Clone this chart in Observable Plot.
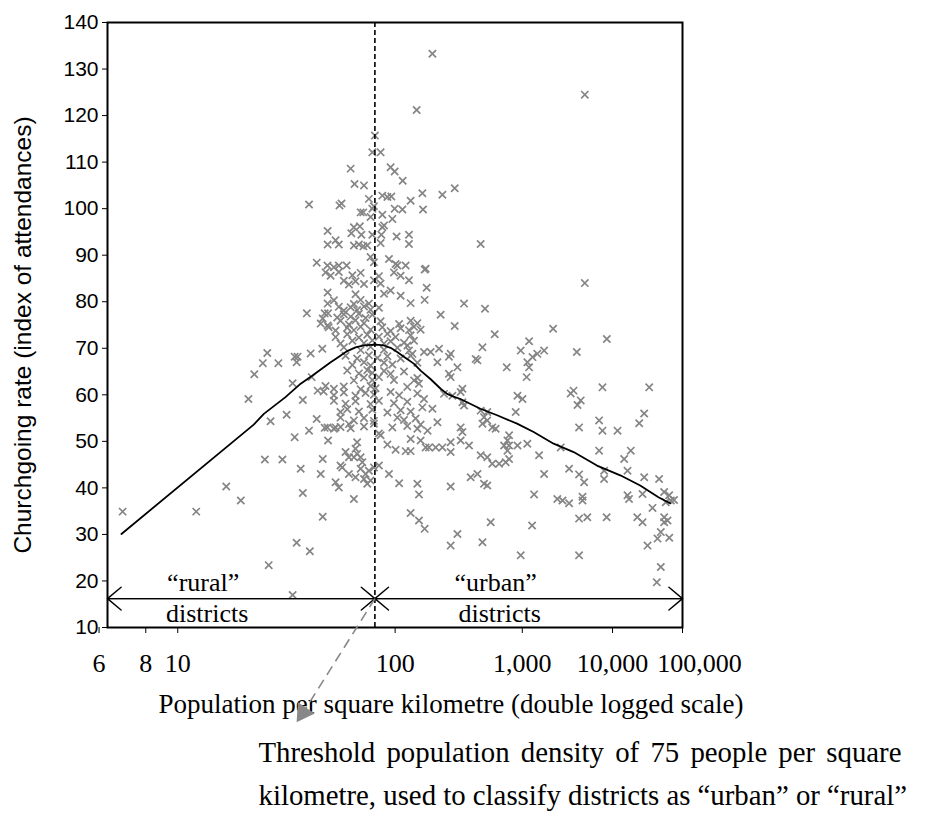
<!DOCTYPE html>
<html>
<head>
<meta charset="utf-8">
<script src="https://cdn.jsdelivr.net/npm/d3@7"></script>
<script src="https://cdn.jsdelivr.net/npm/@observablehq/plot@0.6"></script>
<style>
  html, body { margin: 0; padding: 0; background: #fff; }
  #chart { width: 930px; height: 820px; }
</style>
</head>
<body>
<div id="chart"></div>
<script>
// ---------- data ----------
// [population per km², churchgoing rate]
const districtPoints = [
  [6.9,34.9],[11.5,34.9],[14.7,40.3],[16.7,37.3],[17.9,59.1],[18.9,64.4],[20.5,66.8],[21.4,69.0],[23.9,66.8],
  [20.9,46.1],[24.9,46.1],[21.7,23.4],[22.1,54.3],[26.0,55.7],[27.7,62.5],[27.7,17.0],[28.3,68.2],[29.2,68.2],
  [28.9,67.0],[28.3,50.9],[28.9,28.2],[30.2,44.1],[30.9,58.9],[30.9,38.9],[32.3,77.5],[33.1,100.9],[33.1,52.3],
  [33.4,26.4],[33.7,68.9],[34.1,63.8],[36.1,88.4],[36.1,54.8],[36.5,60.9],
  [37.8,43.0],[38.5,69.9],[38.7,46.2],[38.7,33.8],[39.1,60.7],[39.6,52.9],[40.9,53.0],[41.0,95.2],[41.0,92.3],
  [41.0,82.0],[41.0,79.6],[39.6,77.5],[41.2,77.5],[38.7,76.4],[41.0,74.9],[41.2,50.2],[44.2,52.7],
  [138.7,121.2],[178.8,133.3],[75.0,115.7],[72.4,112.1],[81.2,112.1],[54.4,108.6],[93.6,108.9],[99.3,108.0],
  [111.9,106.0],[57.2,105.3],[64.7,105.0],[151.9,103.3],[69.1,102.1],[83.2,102.8],[89.4,102.5],[94.6,102.6],
  [126.3,101.7],[47.3,100.7],[48.5,101.1],[61.9,99.2],[64.1,99.2],[72.4,100.0],[74.0,100.5],[99.3,100.0],
  [111.4,99.8],[153.4,99.8],[83.2,98.7],[70.7,98.2],[96.0,97.8],[56.7,96.0],[61.3,96.2],[54.9,94.7],[62.5,94.4],
  [83.2,96.0],[85.2,96.4],[72.4,94.4],[82.0,94.4],[102.2,94.0],[123.1,94.4],[45.1,93.2],[46.9,92.3],[56.7,92.1],
  [60.5,92.3],[64.2,91.9],[67.6,92.1],[81.2,92.6],[123.1,92.4],[70.7,89.6],[74.0,88.5],[91.4,89.2],[100.7,88.1],
  [103.3,87.8],[117.0,87.8],[46.9,87.8],[51.7,87.8],[160.1,87.1],
  [4590,124.5],[211.5,103.0],[262.1,104.4],[423.9,92.4],[157.6,86.9],[162.8,83.0],[157.6,80.4],[310.0,79.6],
  [461,78.5],[205.3,77.2],[4590,84.0],[262.1,74.8],[2041,74.2],[98.3,86.3],[108.5,85.6],[123.1,84.6],[85.2,81.7],
  [93.6,82.4],[108.5,81.3],[126.3,79.7],
  [40.9,87.8],[44.2,87.4],
  [40.0,86.3],[42.5,85.6],[46.9,86.4],[55.6,85.7],[61.9,86.2],[79.3,85.5],
  [49.9,84.5],[53.2,83.7],[57.9,84.4],[64.7,83.8],[74.0,84.6],[81.2,83.9],
  [57.9,81.6],
  [44.2,80.3],[56.7,79.5],[61.9,80.4],[69.1,79.6],
  [46.9,78.9],[49.9,78.1],[54.4,78.8],[59.1,78.2],[64.7,79.0],[70.7,78.3],[79.3,78.7],
  [46.0,76.6],[49.9,77.3],[54.4,76.8],[60.5,77.4],[66.1,76.5],[72.4,77.2],
  [37.8,75.3],[47.9,75.9],[53.2,75.1],[57.9,76.0],[64.7,75.4],[81.2,75.8],[106.1,75.2],[126.3,75.9],[140.3,75.4],
  [41.5,74.5],[45.1,73.8],[52.1,74.4],[56.7,73.9],[61.9,74.6],[70.7,74.0],[83.2,74.5],[93.6,73.7],[108.5,74.3],
  [123.1,73.9],[133.0,74.6],[147.7,74.0],
  [45.1,72.4],[52.1,73.0],[60.5,72.3],[67.6,72.9],[79.3,72.5],[89.4,73.1],[100.7,72.4],[126.3,72.8],
  [47.9,71.0],[55.6,71.6],[64.7,71.1],[72.4,71.7],[85.2,71.0],[93.6,71.5],[114.1,71.2],[133.0,71.6],
  [49.9,70.2],[61.9,69.6],[70.7,70.3],[85.2,69.7],[103.3,70.1],[123.1,69.5],
  [51.0,68.4],[59.1,67.8],[69.1,68.5],[77.6,67.9],[89.4,68.3],[108.5,67.8],[126.3,68.4],
  [55.6,66.4],[64.7,67.0],[70.7,66.3],[85.2,66.9],[96.0,66.5],[140.3,66.9],
  [52.1,65.2],[60.5,64.6],[67.6,65.3],[72.4,64.7],[85.2,65.1],[93.6,64.5],[114.1,65.0],
  [56.7,63.1],[64.7,63.7],[72.4,63.2],[79.3,63.8],[98.3,63.2],[140.3,63.6],
  [40.0,61.9],[44.2,61.3],[49.9,61.8],[61.9,61.2],[70.7,61.9],[75.7,61.4],[119.9,61.7],
  [44.2,59.9],[49.9,60.5],[57.9,59.8],[66.1,60.4],[74.0,60.0],[93.6,60.6],[106.1,59.9],[140.3,60.3],
  [44.2,58.7],[51.0,58.1],[57.9,58.6],[70.7,58.0],[79.3,58.7],[98.3,58.2],[119.9,58.5],
  [47.9,56.3],[52.1,56.9],[60.5,56.4],[72.4,56.8],[89.4,56.2],[108.5,56.7],[126.3,56.4],
  [47.9,55.1],[56.7,54.5],[64.7,55.0],[74.0,54.4],[103.3,55.1],[114.1,54.6],[136.5,54.9],
  [47.9,53.1],[53.2,53.7],[64.7,53.2],[74.0,53.8],[119.9,53.3],[147.7,53.6],
  [45.1,53.0],[54.4,52.8],[96.0,53.0],[140.3,52.7],
  [59.1,49.8],[79.3,51.7],[81.2,51.3],[89.4,49.3],[100.7,48.2],[126.3,50.5],[147.7,50.2],[160.1,48.7],[117.0,47.9],
  [126.3,47.9],[57.9,48.4],[59.1,47.3],[61.9,46.6],[63.3,45.5],[56.7,46.6],[47.9,44.8],[48.9,44.4],[61.9,44.1],
  [69.1,43.7],[79.3,44.8],[91.4,43.0],[53.2,43.0],[57.9,42.3],[64.7,41.9],[45.1,41.2],[46.9,40.1],[67.6,40.9],
  [70.7,41.6],[106.1,41.0],[140.3,40.9],[143.9,38.6],[56.7,37.6],[126.3,34.6],[143.9,33.0],[157.6,31.2],[53.2,46.6],
  [51.0,47.7],[74.0,44.4],[66.1,43.0],
  [559,73.0],[8470,72.0],[1163,71.5],[438.6,70.2],[966,69.5],[1645,69.5],[1403,68.8],[1257,68.1],[3709,69.2],
  [199.7,69.9],[244,68.8],[236.8,68.2],[155.9,69.2],[173.7,69.2],[120.2,70.6],[129.8,68.8],[385.2,67.7],[398.4,67.4],
  [194.4,67.0],[275.1,65.9],[716,65.9],[1120,67.0],[1163,65.9],[1101,63.8],[236.8,64.5],[244,63.8],[133.2,63.1],
  [143.9,62.4],[3406,60.9],[3169,60.3],[7480,61.6],[31370,61.6],[217.4,60.2],[251.7,59.8],[301,61.3],[291.6,60.6],
  [900,59.8],[1004,59.1],[4115,58.8],[3780,57.8],[155.9,59.1],[178.8,57.0],[151.9,57.3],[301,58.4],[310,57.7],
  [423.9,56.6],[482,56.3],[866.5,56.3],[26600,56.0],[22660,53.9],[452,55.2],[482,54.5],[438.6,53.8],[532,53.0],
  [570,52.7],[291.6,53.0],[301,52.0],[194.4,54.1],[6800,54.5],[7480,52.3],[11600,52.3],[3938,53.0],[165.1,52.3],
  [752,51.3],[727,50.2],[677,49.1],[752,49.1],[900,49.1],[1118,49.5],[291.6,50.2],[340,49.1],[244,49.8],[169.1,48.7],
  [188.8,48.7],[211.5,48.7],[244,47.7],[423.9,47.0],[482,46.6],[532,45.2],[611,45.2],[700.6,45.5],[752,46.2],
  [727,48.0],[1461,47.0],[2461,48.7],[6800,48.0],[14170,46.2],[17361,48.0],[3039,44.1],[3938,42.9],[4504,41.2],
  [7835,43.7],[7835,41.9],[15700,43.7],[26600,42.3],[43700,41.9],[1645,43.0],[350.5,42.3],[398.4,43.0],[244,40.3],
  [452,40.9],[482,40.5],[1303,38.6],[2260,37.6],[2573,37.3],[3039,36.7],[4316,38.1],[4316,37.3],[15700,38.4],
  [16440,37.6],[25200,38.7],[52000,39.1],[61900,38.4],[55050,36.9],[65590,37.3],[35000,35.7],[515.8,32.6],
  [1245,31.9],[3938,33.4],[4907,33.7],[8430,33.7],[21320,33.7],[25200,32.6],[52000,33.7],[58400,33.0],[52000,32.6],
  [275.1,30.1],[244,27.6],[438.6,28.3],[46310,30.5],[41400,29.1],[62100,29.3],[29700,27.6],[966,25.5],[3938,25.5],
  [46310,23.0],[40400,19.7],[73500,37.4]
];

// smoothed trend line [population per km², churchgoing rate]
const trendPoints = [
  [6.85,30.1],[18.8,53.6],[20.7,55.9],[25.7,59.5],[30.2,62.4],[34.3,64.1],[42.5,67.0],[45.1,67.7],[52.1,69.4],
  [57.9,70.2],[64.6,70.6],[75.7,70.8],[84.9,70.6],[93.6,70.1],[103.1,69.2],[117.0,67.9],[132.6,66.7],[147.7,65.2],
  [173.1,63.4],[205.3,61.3],[229.4,60.2],[257,59.6],[290.3,59.1],[421.5,57.0],[586.6,55.6],[891.9,53.8],[1290,52.0],
  [2066,49.5],[3417,47.7],[6405,44.8],[12590,42.7],[23400,40.5],[42760,38.0],[64120,36.7]
];

const xTickValues = [6, 8, 10, 100, 1000, 10000, 100000];
const xTickLabels = ["6", "8", "10", "100", "1,000", "10,000", "100,000"];
const yTicks = [10, 20, 30, 40, 50, 60, 70, 80, 90, 100, 110, 120, 130, 140];
const xDomain = [6.3, 100000];
const yDomain = [10, 140];
const threshold = 75;              // people per km²
const bandRate = 16.2;             // level of the rural / urban arrows
const pointerEnd = [31, -8.3];     // where the threshold pointer ends (density, rate)
const regionNames = ["\u201Crural\u201D", "\u201Curban\u201D"];
const regionWord = "districts";
const xTitle = "Population per square kilometre (double logged scale)";
const yTitle = "Churchgoing rate (index of attendances)";
const noteLines = [
  "Threshold population density of 75 people per square",
  "kilometre, used to classify districts as \u201Curban\u201D or \u201Crural\u201D"
];

// ---------- chart ----------
const ll = v => Math.log(Math.log(v));   // double log
const serif = "'Liberation Serif', 'Times New Roman', serif";
const sans = "'Liberation Sans', Arial, sans-serif";

const segments = [
  [xDomain[0], threshold], [threshold, xDomain[0]],
  [threshold, xDomain[1]], [xDomain[1], threshold]
];
const regions = [
  {name: regionNames[0], a: xDomain[0], b: threshold, dx: -38},
  {name: regionNames[1], a: threshold, b: xDomain[1], dx: -33}
];
const mid = r => (ll(r.a) + ll(r.b)) / 2;
const ptrAngle = 213.8;
const lastTick = xTickValues.length - 1;

const regionMarks = regions.flatMap(r => [
  Plot.text([r], {x: mid, y: bandRate, text: "name", dx: r.dx, dy: -8, lineAnchor: "bottom",
    fontFamily: serif, fontSize: 26, fill: "#000", textAnchor: "middle"}),
  Plot.text([r], {x: mid, y: bandRate, text: () => regionWord, dx: r.dx + 4, dy: 23.5, lineAnchor: "bottom",
    fontFamily: serif, fontSize: 26, fill: "#000", textAnchor: "middle"})
]);

const chart = Plot.plot({
  width: 930,
  height: 820,
  marginLeft: 107,
  marginRight: 248,
  marginTop: 22,
  marginBottom: 193,
  style: {background: "#fff", fontFamily: sans, color: "#000", overflow: "visible"},
  x: {domain: xDomain.map(ll)},
  y: {domain: yDomain},
  marks: [
    Plot.dot(districtPoints, {
      x: d => ll(d[0]), y: d => d[1], symbol: "times", r: 3.4,
      stroke: "#858585", strokeWidth: 1.7
    }),
    Plot.ruleX([threshold], {x: ll, stroke: "#000", strokeWidth: 1.6, strokeDasharray: "5,3"}),
    Plot.line(trendPoints, {x: d => ll(d[0]), y: d => d[1], stroke: "#000", strokeWidth: 1.8, curve: "linear"}),
    Plot.arrow(segments, {
      x1: d => ll(d[0]), x2: d => ll(d[1]), y1: bandRate, y2: bandRate,
      stroke: "#000", strokeWidth: 1.4, headLength: 19, headAngle: 80
    }),
    ...regionMarks,
    Plot.frame({stroke: "#000", strokeWidth: 2}),
    Plot.axisY(yTicks, {tickSize: 5, tickPadding: 4, fontSize: 21, fontFamily: sans, label: null, stroke: "#000", fill: "#000"}),
    Plot.axisX(xTickValues.map(ll), {
      tickSize: 6, tickPadding: 20, fontSize: 26, fontFamily: serif, label: null,
      tickFormat: (d, i) => (i < lastTick ? xTickLabels[i] : ""), stroke: "#000", fill: "#000"
    }),
    Plot.text([xTickValues[lastTick]], {x: ll, text: () => xTickLabels[lastTick], frameAnchor: "bottom",
      dy: 26, dx: 17, lineAnchor: "top", fontSize: 26, fontFamily: serif, fill: "#000", textAnchor: "middle"}),
    Plot.text([yTitle], {frameAnchor: "left", rotate: -90, dx: -84, dy: 10, fontSize: 24.5,
      fontFamily: sans, fill: "#000", textAnchor: "middle"}),
    Plot.text([xTitle], {frameAnchor: "bottom", dx: 56, dy: 85, lineAnchor: "bottom", fontSize: 27,
      fontFamily: serif, fill: "#000", textAnchor: "middle"}),
    Plot.link([[threshold, bandRate, ...pointerEnd]], {
      x1: d => ll(d[0]), y1: d => d[1], x2: d => ll(d[2]), y2: d => d[3],
      stroke: "#888", strokeWidth: 1.6, strokeDasharray: "10,6"
    }),
    Plot.dot([pointerEnd], {x: d => ll(d[0]), y: d => d[1], symbol: "triangle", r: 7.5,
      fill: "#888", stroke: "none", rotate: ptrAngle}),
    Plot.text([noteLines[0]], {frameAnchor: "bottom-left", dx: 151, dy: 134, lineAnchor: "bottom",
      textAnchor: "start", fontSize: 28.8, fontFamily: serif, fill: "#000"}),
    Plot.text([noteLines[1]], {frameAnchor: "bottom-left", dx: 151, dy: 177, lineAnchor: "bottom",
      textAnchor: "start", fontSize: 28.8, fontFamily: serif, fill: "#000"})
  ]
});

// justified first line of the note, as in the original
d3.select(chart).selectAll("text")
  .filter(function () { return this.textContent === noteLines[0]; })
  .attr("word-spacing", "4px")
  .style("word-spacing", "4px");

document.getElementById("chart").appendChild(chart);
</script>
</body>
</html>
